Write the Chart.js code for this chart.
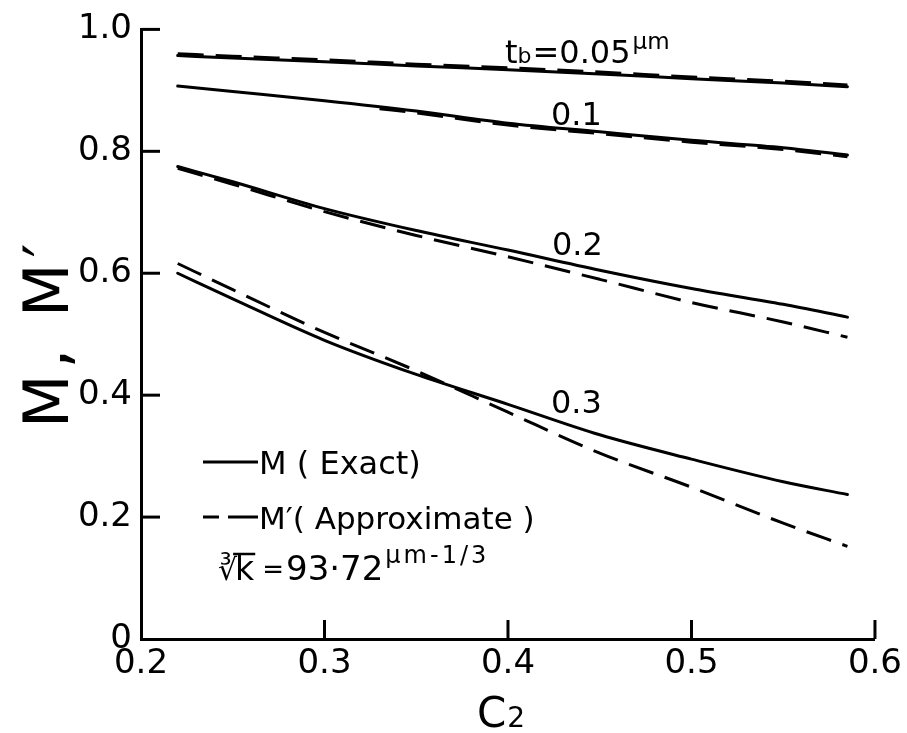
<!DOCTYPE html>
<html><head><meta charset="utf-8">
<script src="https://cdn.jsdelivr.net/npm/chart.js@4/dist/chart.umd.min.js"></script>
<style>html,body{margin:0;padding:0;background:#fff}</style>
</head><body>
<canvas id="c" width="907" height="733"></canvas>
<script>
// ---- data ----
const c2 = [0.22, 0.25, 0.30, 0.35, 0.40, 0.45, 0.50, 0.55, 0.585];
const c2Late = [0.33, 0.35, 0.40, 0.45, 0.50, 0.55, 0.585];
const exact005  = [0.957, 0.953, 0.947, 0.940, 0.934, 0.927, 0.919, 0.912, 0.906];
const approx005 = [0.960, 0.956, 0.950, 0.943, 0.937, 0.930, 0.922, 0.915, 0.909];
const exact01   = [0.907, 0.898, 0.883, 0.866, 0.846, 0.832, 0.818, 0.806, 0.794];
const approx01  = [0.870, 0.863, 0.843, 0.829, 0.815, 0.803, 0.791];
const exact02   = [0.775, 0.750, 0.706, 0.670, 0.638, 0.605, 0.575, 0.549, 0.528];
const approx02  = [0.772, 0.746, 0.701, 0.662, 0.627, 0.590, 0.552, 0.520, 0.495];
const exact03   = [0.600, 0.558, 0.490, 0.434, 0.385, 0.335, 0.295, 0.258, 0.237];
const approx03  = [0.616, 0.573, 0.503, 0.440, 0.372, 0.305, 0.249, 0.190, 0.152];
const xTicks = ['0.2', '0.3', '0.4', '0.5', '0.6'];
const yTicks = ['0', '0.2', '0.4', '0.6', '0.8', '1.0'];

const FONT = "'DejaVu Sans', sans-serif";
const pts = (xs, ys) => xs.map((x, i) => ({x, y: ys[i]}));
const solid = (label, xs, ys) => ({label, data: pts(xs, ys), borderColor: '#000', borderWidth: 3,
  pointRadius: 0, fill: false, cubicInterpolationMode: 'monotone', borderCapStyle: 'round'});
const dashed = (label, xs, ys) => Object.assign(solid(label, xs, ys), {borderDash: [26, 12], borderCapStyle: 'butt'});

const annot = {
  id: 'annot',
  afterDraw(chart) {
    const ctx = chart.ctx, xs = chart.scales.x, ys = chart.scales.y;
    ctx.save();
    ctx.strokeStyle = '#000'; ctx.fillStyle = '#000'; ctx.lineWidth = 3;
    // inward ticks
    ys.ticks.forEach(t => { if (t.value <= 0) return; const y = ys.getPixelForValue(t.value);
      ctx.beginPath(); ctx.moveTo(xs.left, y); ctx.lineTo(xs.left + 19, y); ctx.stroke(); });
    xs.ticks.forEach(t => { if (t.value <= 0.2001) return; const x = xs.getPixelForValue(t.value);
      ctx.beginPath(); ctx.moveTo(x, ys.bottom); ctx.lineTo(x, ys.bottom - 19); ctx.stroke(); });

    ctx.textBaseline = 'alphabetic'; ctx.textAlign = 'left';
    const seq = (x, parts) => { parts.forEach(p => { ctx.font = p[1] + 'px ' + FONT; ctx.fillText(p[0], x, p[2]); x += ctx.measureText(p[0]).width + (p[3] || 0); }); return x; };

    // curve labels
    seq(505, [['t', 32, 63, 0], ['b', 22, 63, 1], ['=0.05', 32, 63, 2], ['\u03bcm', 23, 49]]);
    ctx.font = '32px ' + FONT;
    ctx.fillText('0.1', 551, 125);
    ctx.fillText('0.2', 552, 255);
    ctx.fillText('0.3', 551, 413);

    // legend
    ctx.lineWidth = 3;
    ctx.beginPath(); ctx.moveTo(203, 462); ctx.lineTo(258, 462); ctx.stroke();
    ctx.beginPath(); ctx.moveTo(203, 517); ctx.lineTo(219, 517); ctx.moveTo(228, 517); ctx.lineTo(258, 517); ctx.stroke();
    ctx.font = '32px ' + FONT;
    ctx.fillText('M ( Exact)', 259, 474);
    ctx.font = '31px ' + FONT;
    ctx.fillText('M\u2032( Approximate )', 259, 529);
    const kx = seq(218, [['\u221b', 30, 580, 0]]);
    ctx.font = '33px ' + FONT;
    const kw = ctx.measureText('k').width;
    ctx.fillText('k', kx - 2, 580);
    ctx.lineWidth = 2.5;
    ctx.beginPath(); ctx.moveTo(kx - 4, 554); ctx.lineTo(kx + kw - 1, 554); ctx.stroke();
    const ex = seq(kx + kw + 6, [['=', 26, 578, 2], ['93\u00b772', 34, 580, 2]]);
    ctx.font = '24px ' + FONT;
    ctx.letterSpacing = '3px';
    ctx.fillText('\u03bcm-1/3', ex, 563);
    ctx.letterSpacing = '0px';

    // axis titles
    seq(477, [['C', 42, 727, 1], ['2', 28, 727]]);
    ctx.save();
    ctx.translate(68, 428); ctx.rotate(-Math.PI / 2);
    ctx.font = '62px ' + FONT;
    ctx.letterSpacing = '6px';
    ctx.fillText('M, M\u2032', 0, 0);
    ctx.restore();
    ctx.restore();
  }
};

new Chart(document.getElementById('c'), {
  type: 'line',
  data: { datasets: [
    solid('M tb=0.05', c2, exact005), dashed("M' tb=0.05", c2, approx005),
    solid('M tb=0.1', c2, exact01), dashed("M' tb=0.1", c2Late, approx01),
    solid('M tb=0.2', c2, exact02), dashed("M' tb=0.2", c2, approx02),
    solid('M tb=0.3', c2, exact03), dashed("M' tb=0.3", c2, approx03)
  ]},
  options: {
    responsive: false, devicePixelRatio: 1, animation: false,
    layout: { padding: { top: 29, right: 32, left: 0, bottom: 0 } },
    plugins: { legend: { display: false }, tooltip: { enabled: false } },
    scales: {
      x: { type: 'linear', min: 0.2, max: 0.6,
        ticks: { stepSize: 0.1, autoSkip: false, maxRotation: 0, padding: 5, color: '#000',
          font: { family: FONT, size: 34 },
          callback: (v) => xTicks[Math.round((v - 0.2) * 10)] },
        grid: { display: false, drawTicks: false },
        border: { display: true, width: 3, color: '#000' },
        afterFit: (s) => { s.height = 94; } },
      y: { type: 'linear', min: 0, max: 1,
        ticks: { stepSize: 0.2, autoSkip: false, padding: 9, color: '#000',
          font: { family: FONT, size: 34 },
          callback: (v) => yTicks[Math.round(v * 5)] },
        grid: { display: false, drawTicks: false },
        border: { display: true, width: 3, color: '#000' },
        afterFit: (s) => { s.width = 141; } }
    }
  },
  plugins: [annot]
});
</script>
</body></html>
